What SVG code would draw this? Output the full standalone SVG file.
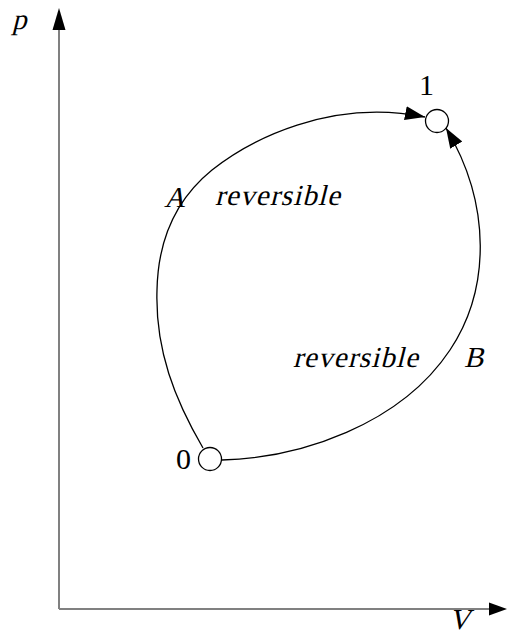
<svg xmlns="http://www.w3.org/2000/svg" width="510" height="634" viewBox="0 0 510 634">
<style>
.t{font-family:"Liberation Serif","Times New Roman",serif;font-style:normal;font-size:29px;fill:#000}
.n{font-family:"Liberation Serif","Times New Roman",serif;font-size:30px;fill:#000}
.axis{stroke:#808080;stroke-width:2;fill:none}
.curve{stroke:#000;stroke-width:1.3;fill:none}
.node{fill:#fff;stroke:#000;stroke-width:1.3}
</style>
<defs>
<marker id="ah" markerUnits="userSpaceOnUse" markerWidth="22" markerHeight="16" refX="20" refY="7" orient="auto">
<path d="M0,0 L20,7 L0,14 z" fill="#000"/>
</marker>
</defs>
<rect width="510" height="634" fill="#fff"/>
<g id="axes">
<line class="axis" x1="59" y1="609" x2="59" y2="28"/>
<polygon points="59,8 52.5,30 65.5,30" fill="#000"/>
<line class="axis" x1="59" y1="609" x2="492" y2="609"/>
<polygon points="507,609 489,602.5 489,615.5" fill="#000"/>
<text class="t" transform="translate(12,29) skewX(-14)" font-size="27">p</text>
<text class="t" transform="translate(449,629) skewX(-14)" font-size="25">V</text>
</g>
<g id="connectors">
<path id="pathA" class="curve" d="M203,448 C175,400 155,350 157,290 C158,240 175,200 212,170 C250,140 330,98 425,117" marker-end="url(#ah)"/>
<path id="pathB" class="curve" d="M222,460 C300,458 400,425 450,350 C490,290 492,205 446,128" marker-end="url(#ah)"/>
<text class="t" transform="translate(164,207) skewX(-14)">A</text>
<text class="t" transform="translate(215,205) skewX(-14)" textLength="125" lengthAdjust="spacing">reversible</text>
<text class="t" transform="translate(293,367) skewX(-14)" textLength="125" lengthAdjust="spacing">reversible</text>
<text class="t" transform="translate(464,367) skewX(-14)">B</text>
</g>
<g id="node0">
<circle class="node" cx="210" cy="459" r="11.5"/>
<text class="n" x="176" y="469">0</text>
</g>
<g id="node1">
<circle class="node" cx="437" cy="121" r="11.5"/>
<text class="n" x="419" y="95">1</text>
</g>
</svg>
